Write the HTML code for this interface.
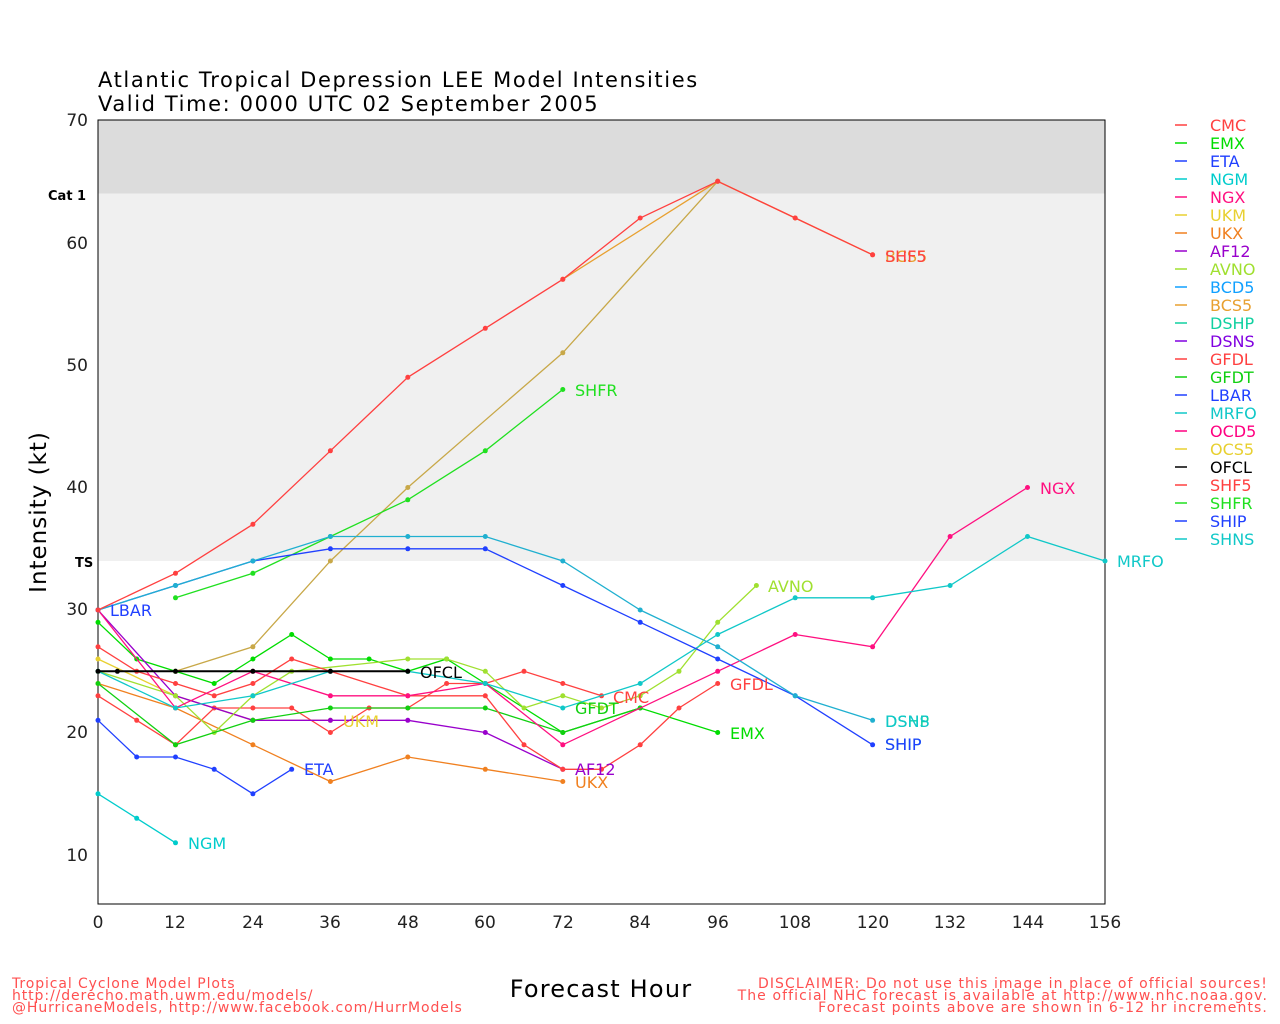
<!DOCTYPE html><html><head><style>body{margin:0;background:#fff}svg{display:block;font-family:"DejaVu Sans","Liberation Sans",sans-serif}</style></head><body>
<svg id="s" width="1280" height="1024" xmlns="http://www.w3.org/2000/svg">
<rect x="98" y="120" width="1007" height="73.5" fill="#dcdcdc"/>
<rect x="98" y="193.5" width="1007" height="367.5" fill="#f0f0f0"/>
<rect x="98" y="120" width="1007" height="784" fill="none" stroke="#000" stroke-width="1"/>
<text x="98" y="87" font-size="21" letter-spacing="1.6">Atlantic Tropical Depression LEE Model Intensities</text>
<text x="98" y="111" font-size="21" letter-spacing="1.6">Valid Time: 0000 UTC 02 September 2005</text>
<text x="48" y="200" font-size="13" font-weight="bold">Cat 1</text>
<text x="75" y="567" font-size="13" font-weight="bold">TS</text>
<text transform="translate(46,512) rotate(-90)" font-size="23" text-anchor="middle" letter-spacing="1">Intensity (kt)</text>
<text x="601" y="997" font-size="24" text-anchor="middle" letter-spacing="1.2">Forecast Hour</text>
<g font-size="17" text-anchor="end" fill="#222">
<text x="88" y="126">70</text><text x="88" y="249">60</text><text x="88" y="371">50</text><text x="88" y="493">40</text><text x="88" y="615">30</text><text x="88" y="738">20</text><text x="88" y="861">10</text></g>
<g font-size="17" text-anchor="middle" fill="#222">
<text x="98" y="928">0</text><text x="175" y="928">12</text><text x="253" y="928">24</text><text x="330" y="928">36</text><text x="408" y="928">48</text><text x="485" y="928">60</text><text x="563" y="928">72</text><text x="640" y="928">84</text><text x="718" y="928">96</text><text x="795" y="928">108</text><text x="873" y="928">120</text><text x="950" y="928">132</text><text x="1028" y="928">144</text><text x="1105" y="928">156</text></g>
<g font-size="14" fill="#ff5050" letter-spacing="0.9">
<text x="12" y="988">Tropical Cyclone Model Plots</text>
<text x="12" y="1000">http://derecho.math.uwm.edu/models/</text>
<text x="12" y="1012">@HurricaneModels, http://www.facebook.com/HurrModels</text>
</g>
<g font-size="14" fill="#ff5050" letter-spacing="1.1" text-anchor="end">
<text x="1268" y="988">DISCLAIMER: Do not use this image in place of official sources!</text>
<text x="1268" y="1000">The official NHC forecast is available at http://www.nhc.noaa.gov.</text>
<text x="1268" y="1012">Forecast points above are shown in 6-12 hr increments.</text></g>
<g id="lines"></g>
<g font-size="16">
<text x="110" y="616" fill="#2040ff">LBAR</text>
<text x="304" y="775" fill="#2040ff">ETA</text>
<text x="188" y="849" fill="#00cccc">NGM</text>
<text x="343" y="727" fill="#e8d030">UKM</text>
<text x="420" y="678" fill="#000">OFCL</text>
<text x="575" y="396" fill="#20e020">SHFR</text>
<text x="575" y="714" fill="#10d010">GFDT</text>
<text x="613" y="703" fill="#ff4040">CMC</text>
<text x="575" y="775" fill="#9900cc">AF12</text>
<text x="575" y="788" fill="#f08020">UKX</text>
<text x="730" y="690" fill="#ff4040">GFDL</text>
<text x="730" y="739" fill="#00dd00">EMX</text>
<text x="768" y="592" fill="#a0e030">AVNO</text>
<text x="1040" y="494" fill="#ff1080">NGX</text>
<text x="1117" y="567" fill="#10c8c8">MRFO</text>
<text x="885" y="262" fill="#e8a030">BCS5</text>
<text x="885" y="262" fill="#ff4040">SHF5</text>
<text x="885" y="727" fill="#10d0a0">DSHP</text>
<text x="885" y="727" fill="#10c8c8">DSNS</text>
<text x="885" y="750" fill="#10d0a0">SHIP</text>
<text x="885" y="750" fill="#2040ff">SHIP</text>
</g>
<g font-size="16" id="leg">
<text x="1210" y="131" fill="#ff4040">CMC</text><text x="1210" y="149" fill="#00dd00">EMX</text><text x="1210" y="167" fill="#2040ff">ETA</text><text x="1210" y="185" fill="#00cccc">NGM</text><text x="1210" y="203" fill="#ff1080">NGX</text><text x="1210" y="221" fill="#e8d030">UKM</text><text x="1210" y="239" fill="#f08020">UKX</text><text x="1210" y="257" fill="#9900cc">AF12</text><text x="1210" y="275" fill="#a0e030">AVNO</text><text x="1210" y="293" fill="#10a0ff">BCD5</text><text x="1210" y="311" fill="#e8a030">BCS5</text><text x="1210" y="329" fill="#10d0a0">DSHP</text><text x="1210" y="347" fill="#8000e0">DSNS</text><text x="1210" y="365" fill="#ff4040">GFDL</text><text x="1210" y="383" fill="#10d010">GFDT</text><text x="1210" y="401" fill="#2040ff">LBAR</text><text x="1210" y="419" fill="#10c8c8">MRFO</text><text x="1210" y="437" fill="#ff0080">OCD5</text><text x="1210" y="455" fill="#e8d030">OCS5</text><text x="1210" y="473" fill="#000">OFCL</text><text x="1210" y="491" fill="#ff4040">SHF5</text><text x="1210" y="509" fill="#20e020">SHFR</text><text x="1210" y="527" fill="#2040ff">SHIP</text><text x="1210" y="545" fill="#10c8c8">SHNS</text>
</g>
</svg>
<script>
var NS="http://www.w3.org/2000/svg",g=document.getElementById("lines"),s=document.getElementById("s");
function X(h){return 98+h*1007/156}function Y(v){return 120+(70-v)*12.25}
var LC=["#ff4040","#00dd00","#2040ff","#00cccc","#ff1080","#e8d030","#f08020","#9900cc","#a0e030","#10a0ff","#e8a030","#10d0a0","#8000e0","#ff4040","#10d010","#2040ff","#10c8c8","#ff0080","#e8d030","#000","#ff4040","#20e020","#2040ff","#10c8c8"];
LC.forEach(function(c,i){var y=125+i*18;var l=document.createElementNS(NS,"line");l.setAttribute("x1",1175);l.setAttribute("x2",1187);l.setAttribute("y1",y);l.setAttribute("y2",y);l.setAttribute("stroke",c);l.setAttribute("stroke-width",1.5);s.appendChild(l);});
var D=[
["#ff4040",[0,23,6,21,12,19,18,22,24,22,30,22,36,20,42,22,48,22,54,24,60,24,66,25,72,24,78,23]],
["#00dd00",[0,29,6,26,12,25,18,24,24,26,30,28,36,26,42,26,48,25,54,26,60,24,72,20,84,22,96,20]],
["#2040ff",[0,21,6,18,12,18,18,17,24,15,30,17]],
["#00cccc",[0,15,6,13,12,11]],
["#f08020",[0,24,12,22,24,19,36,16,48,18,60,17,72,16]],
["#e8d030",[0,26,12,23,24,21,36,21]],
["#9900cc",[0,30,12,23,24,21,36,21,48,21,60,20,72,17]],
["#a0e030",[0,25,12,23,18,20,24,23,30,25,48,26,54,26,60,25,66,22,72,23,78,22,84,23,90,25,96,29,102,32]],
["#10d010",[0,24,12,19,24,21,36,22,48,22,60,22,72,20,84,22]],
["#ff4040",[0,27,6,25,12,24,18,23,24,24,30,26,36,25,48,23,60,23,66,19,72,17,78,17,84,19,90,22,96,24]],
["#ff1080",[0,30,12,22,24,25,36,23,48,23,60,24,72,19,96,25,108,28,120,27,132,36,144,40]],
["#10c8c8",[0,25,12,22,24,23,36,25,48,25,60,24,72,22,84,24,96,28,108,31,120,31,132,32,144,36,156,34]],
["#c8a848",[12,25,24,27,36,34,48,40,72,51,96,65]],
["#20e020",[12,31,24,33,36,36,48,39,60,43,72,48]],
["#2040ff",[0,30,12,32,24,34,36,35,48,35,60,35,72,32,84,29,96,26,108,23,120,19]],
["#20b0d0",[0,30,12,32,24,34,36,36,48,36,60,36,72,34,84,30,96,27,108,23,120,21]],
["#e8a030",[72,57,96,65,108,62,120,59]],
["#ff4040",[0,30,12,33,24,37,36,43,48,49,60,53,72,57,84,62,96,65,108,62,120,59]],
["#000",[0,25,3,25,12,25,24,25,36,25,48,25]]];
D.forEach(function(d){var p=d[1],pts=[];for(var i=0;i<p.length;i+=2)pts.push(X(p[i]).toFixed(1)+","+Y(p[i+1]).toFixed(1));
var pl=document.createElementNS(NS,"polyline");pl.setAttribute("points",pts.join(" "));pl.setAttribute("fill","none");pl.setAttribute("stroke",d[0]);pl.setAttribute("stroke-width",d[0]=="#000"?2:1.3);g.appendChild(pl);
pts.forEach(function(q){var a=q.split(","),c=document.createElementNS(NS,"circle");c.setAttribute("cx",a[0]);c.setAttribute("cy",a[1]);c.setAttribute("r",2.5);c.setAttribute("fill",d[0]);g.appendChild(c);});});
</script></body></html>
